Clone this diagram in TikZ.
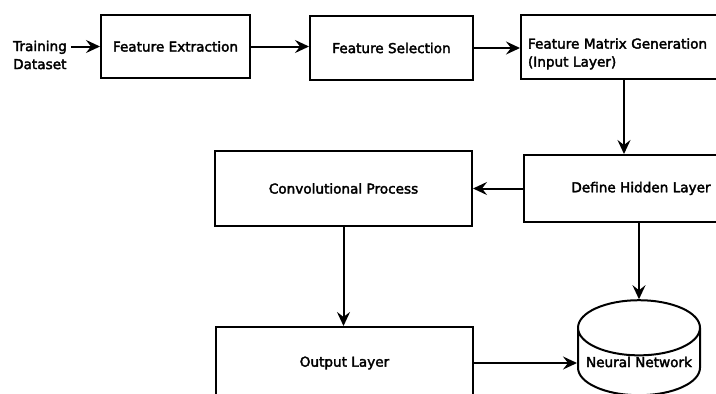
\documentclass[tikz,border=0pt]{standalone}
\usepackage{fontspec}
\newfontfamily\diafont[FakeBold=2.5]{DejaVu Sans}
\usepackage{tikz}
\usetikzlibrary{shapes.geometric, arrows, arrows.meta}
\tikzstyle{box} = [rectangle, draw=black, line width=2pt, inner sep=0pt, text centered, font=\fontsize{13.6}{18}\diafont]
\tikzstyle{plain} = [inner sep=0pt, align=left, font=\fontsize{13.6}{18}\diafont]
\tikzstyle{db} = [cylinder, shape border rotate=90, aspect=0.52, draw=black, line width=2pt, inner sep=0pt, minimum width=122pt, minimum height=95pt, font=\fontsize{13.6}{18}\diafont]
\tikzstyle{arrow} = [line width=2pt,->,>={Stealth[length=14pt,width=13pt,inset=5pt]}]

\begin{document}
\begin{tikzpicture}[x=1pt,y=-1pt]
\useasboundingbox (0,0) rectangle (716,394);
\clip (0,0) rectangle (716,394);

\node (T) [plain, outer sep=4pt] at (40,55) {Training\\Dataset};
\node (A) [box, minimum width=149pt, minimum height=63pt] at (175.5,46.5) {Feature Extraction};
\node (B) [box, minimum width=163pt, minimum height=64pt] at (391.5,48) {Feature Selection};
\node (C) [box, minimum height=64pt, text width=192pt, inner xsep=7pt, align=left] at (624,47) {\rule{0pt}{24pt}Feature Matrix Generation\\(Input Layer)};
\node (D) [box, minimum width=234pt, minimum height=67pt] at (641,188.5) {Define Hidden Layer};
\node (E) [box, minimum width=257pt, minimum height=75pt] at (343.5,188.5) {Convolutional Process};
\node (F) [box, minimum width=257pt, minimum height=72pt] at (344.5,363) {Output Layer};
\node (G) [db] at (639,362) {Neural Network};

\draw [arrow] (T.east |- A.west) -- (A.west);
\draw [arrow] (A.east) -- (A.east -| B.west);
\draw [arrow] (B.east) -- (B.east -| C.west);
\draw [arrow] (C.south) -- (C.south |- D.north);
\draw [arrow] (D.west) -- (D.west -| E.east);
\draw [arrow] (E.south) -- (E.south |- F.north);
\draw [arrow] (F.east) -- (F.east -| G.west);
\draw [arrow] (G.north |- D.south) -- (G.north);

\end{tikzpicture}
\end{document}
